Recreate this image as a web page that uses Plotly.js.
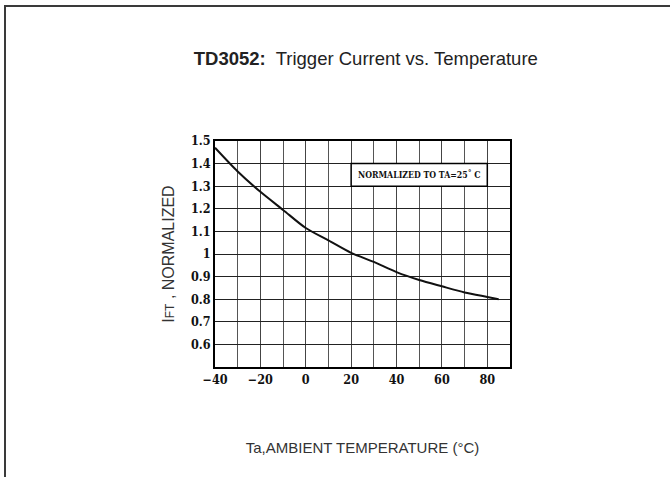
<!DOCTYPE html>
<html>
<head>
<meta charset="utf-8">
<script src="https://cdn.plot.ly/plotly-3.0.1.min.js"></script>
<style>
  html, body { margin: 0; padding: 0; background: #fff; }
  #wrap { position: relative; width: 670px; height: 477px; overflow: hidden; }
  #frame { position: absolute; left: 4px; top: 5px; width: 670px; height: 480px;
           border-top: 2px solid #3a3a3a; border-left: 2px solid #3a3a3a; box-sizing: border-box; pointer-events: none; }
  #chart { position: absolute; left: 0; top: 0; width: 670px; height: 477px; }
</style>
</head>
<body>
<div id="wrap">
  <div id="chart"></div>
  <div id="frame"></div>
</div>
<script>
// Data
const temperatureC = [-40, -30, -20, -10, 0, 10, 20, 30, 40, 50, 60, 70, 80, 85];
const iftNormalized = [1.47, 1.365, 1.275, 1.195, 1.115, 1.06, 1.005, 0.965, 0.92, 0.885, 0.857, 0.83, 0.81, 0.80];
const yTickValues = [0.6, 0.7, 0.8, 0.9, 1.0, 1.1, 1.2, 1.3, 1.4, 1.5];
const yTickLabels = ['0.6', '0.7', '0.8', '0.9', '1', '1.1', '1.2', '1.3', '1.4', '1.5'];
const noteText = 'NORMALIZED TO TA=25˚ C';
const noteBox = {x: [20, 80], y: [1.3, 1.4]};

const tickFont = {family: '"DejaVu Serif Condensed", "Liberation Serif", serif', size: 12.5, color: '#111', weight: 'bold'};

const trace = {
  x: temperatureC,
  y: iftNormalized,
  type: 'scatter',
  mode: 'lines',
  line: {color: '#111', width: 2, shape: 'spline', smoothing: 0.8},
  hoverinfo: 'skip',
  showlegend: false
};

const layout = {
  width: 670,
  height: 477,
  paper_bgcolor: 'rgba(0,0,0,0)',
  plot_bgcolor: '#fff',
  margin: {l: 215, r: 160, t: 141, b: 110},
  title: {
    text: '<b>TD3052:</b>  Trigger Current vs. Temperature',
    font: {family: '"Liberation Sans", Arial, sans-serif', size: 18.5, color: '#222'},
    x: 0.546, xanchor: 'center',
    y: 0.877, yanchor: 'middle'
  },
  xaxis: {
    range: [-40, 90],
    tick0: -40,
    dtick: 20,
    showgrid: true,
    gridcolor: '#444',
    gridwidth: 1,
    minor: {dtick: 10, showgrid: true, gridcolor: '#555', gridwidth: 1},
    zeroline: false,
    showline: true,
    linecolor: '#000',
    linewidth: 2,
    mirror: true,
    ticks: '',
    ticklen: 0,
    tickfont: tickFont,
    title: {
      text: 'Ta,AMBIENT TEMPERATURE (°C)',
      font: {family: '"Liberation Sans", Arial, sans-serif', size: 15, color: '#333'},
      standoff: 56
    },
    fixedrange: true
  },
  yaxis: {
    range: [0.5, 1.5],
    tickvals: yTickValues,
    ticktext: yTickLabels,
    showgrid: true,
    gridcolor: '#222',
    gridwidth: 1,
    zeroline: false,
    showline: true,
    linecolor: '#000',
    linewidth: 2,
    mirror: true,
    ticks: '',
    tickfont: tickFont,
    title: {
      text: 'I<span style="font-size:12px">FT</span> , NORMALIZED',
      font: {family: '"Liberation Sans", Arial, sans-serif', size: 16, color: '#333'},
      standoff: 12
    },
    fixedrange: true
  },
  shapes: [{
    type: 'rect', xref: 'x', yref: 'y',
    x0: noteBox.x[0], x1: noteBox.x[1], y0: noteBox.y[0], y1: noteBox.y[1],
    fillcolor: '#fff', line: {color: '#000', width: 1.5}, layer: 'above'
  }],
  annotations: [{
    xref: 'x', yref: 'y',
    x: (noteBox.x[0] + noteBox.x[1]) / 2, y: (noteBox.y[0] + noteBox.y[1]) / 2,
    text: noteText,
    showarrow: false,
    font: {family: '"DejaVu Serif Condensed", "Liberation Serif", serif', size: 8.7, color: '#111', weight: 'bold'},
    xanchor: 'center', yanchor: 'middle'
  }]
};

Plotly.newPlot('chart', [trace], layout, {staticPlot: true, displayModeBar: false});
</script>
</body>
</html>
